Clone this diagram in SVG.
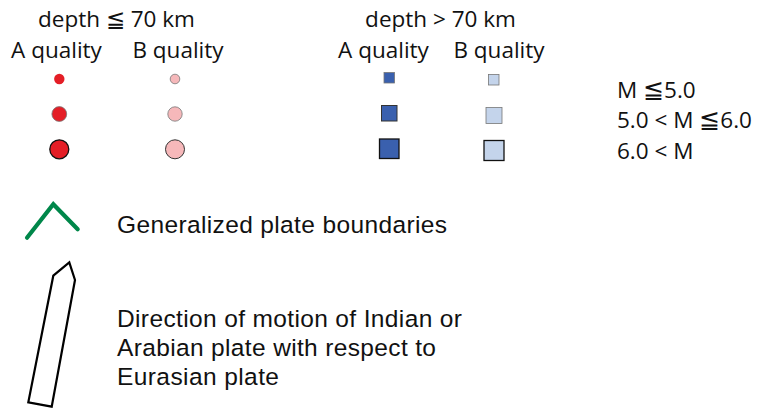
<svg xmlns="http://www.w3.org/2000/svg" width="763" height="408" viewBox="0 0 763 408">
<style>
.h{font-family:"Open Sans","Noto Sans",sans-serif;font-size:22.5px;fill:#111}
.t{font-family:"Liberation Sans",Arial,sans-serif;font-size:24.5px;fill:#111}
.le{font-size:25px}
.ra{fill:#e41e26}
.rb{fill:#f6b8ba}
.ba{fill:#3a60ae}
.bb{fill:#c4d4eb}
.s1{stroke:#777;stroke-width:0.8}
.s2{stroke:#333;stroke-width:1}
.s3{stroke:#111;stroke-width:1.3}
</style>
<rect width="763" height="408" fill="#fff"/>
<g id="header-shallow">
<text class="h" x="116.5" y="27" text-anchor="middle">depth ≦ 70 km</text>
<text class="h" x="56.5" y="58" text-anchor="middle">A quality</text>
<text class="h" x="178" y="58" text-anchor="middle">B quality</text>
</g>
<g id="header-deep">
<text class="h" x="440.5" y="27" text-anchor="middle">depth &gt; 70 km</text>
<text class="h" x="383.5" y="58" text-anchor="middle">A quality</text>
<text class="h" x="499" y="58" text-anchor="middle">B quality</text>
</g>
<g id="shallow-A">
<circle class="ra" cx="59.3" cy="79" r="5.2"/>
<circle class="ra s1" cx="59.3" cy="114" r="7.4"/>
<circle class="ra s3" cx="59.3" cy="149.3" r="9.5"/>
</g>
<g id="shallow-B">
<circle class="rb s1" cx="175" cy="79" r="4.8"/>
<circle class="rb s1" cx="175" cy="114" r="7.2"/>
<circle class="rb s2" cx="175" cy="149.3" r="9.5"/>
</g>
<g id="deep-A">
<rect class="ba s1" x="384" y="72.5" width="10.5" height="10.5"/>
<rect class="ba s2" x="381.5" y="105.5" width="15.5" height="15.5"/>
<rect class="ba s3" x="379.5" y="139" width="19.5" height="19.5"/>
</g>
<g id="deep-B">
<rect class="bb s1" x="488.5" y="74.5" width="10.5" height="10.5"/>
<rect class="bb s1" x="486" y="107.5" width="16" height="16"/>
<rect class="bb s3" x="484" y="140.5" width="20" height="20"/>
</g>
<g id="magnitude">
<text class="h" x="617" y="98">M <tspan class="le">≦</tspan>5.0</text>
<text class="h" x="617" y="128">5.0 &lt; M <tspan class="le">≦</tspan>6.0</text>
<text class="h" x="617" y="159">6.0 &lt; M</text>
</g>
<g id="plate-boundary">
<polyline points="27,237.7 53.3,204.3 77.7,229.3" fill="none" stroke="#00874a" stroke-width="4.2" stroke-linecap="round" stroke-linejoin="miter"/>
<text class="t" x="117" y="233" textLength="330">Generalized plate boundaries</text>
</g>
<g id="motion-arrow">
<polygon points="53.3,275.7 69.3,262.3 75,280 51.7,406.7 28.3,402.3" fill="#fff" stroke="#000" stroke-width="2.2" stroke-linejoin="miter"/>
<text class="t" x="117" y="327" textLength="345">Direction of motion of Indian or</text>
<text class="t" x="117" y="356" textLength="319">Arabian plate with respect to</text>
<text class="t" x="117" y="385" textLength="162">Eurasian plate</text>
</g>
</svg>
